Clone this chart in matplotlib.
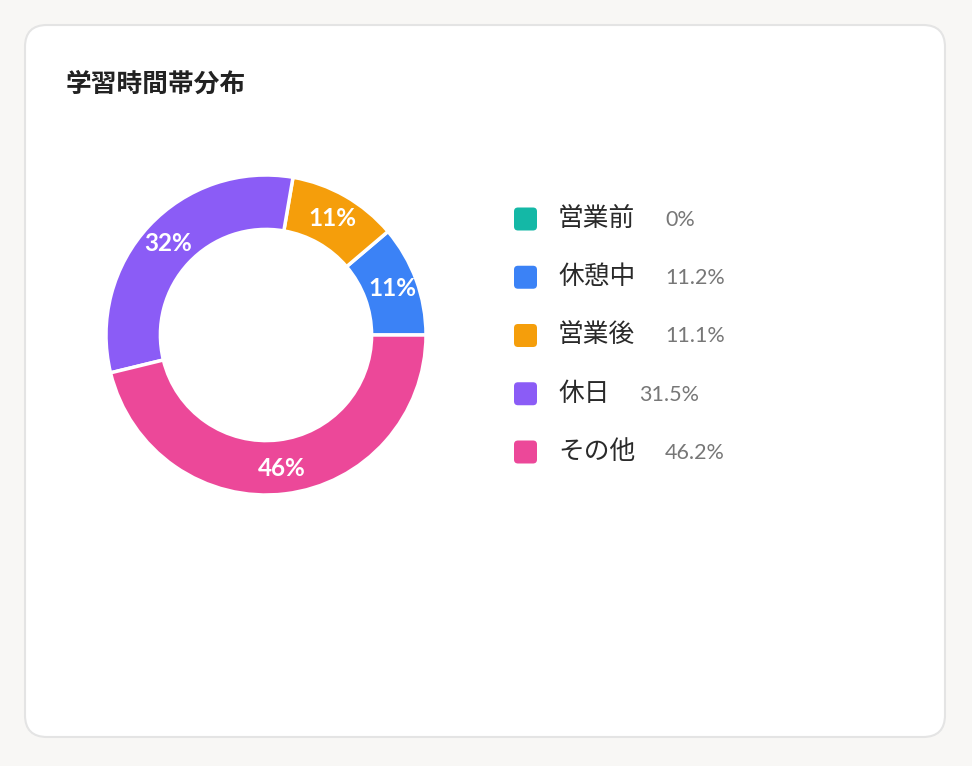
import numpy as np
import matplotlib
matplotlib.use("Agg")
import matplotlib.pyplot as plt
from matplotlib.patches import FancyBboxPatch

# データ
categories = ["営業前", "休憩中", "営業後", "休日", "その他"]
values = [0.0, 11.2, 11.1, 31.5, 46.2]
colors = ["#14b8a6", "#3b82f6", "#f59e0b", "#8b5cf6", "#ec4899"]
title = "学習時間帯分布"

W, H = 972, 766
fig = plt.figure(figsize=(W / 100, H / 100), dpi=100)
fig.patch.set_facecolor("#f8f7f5")

# 背景用の軸 (ピクセル座標)
bg = fig.add_axes([0, 0, 1, 1])
bg.set_xlim(0, W)
bg.set_ylim(H, 0)
bg.axis("off")
card = FancyBboxPatch((25, 25), 920, 712, boxstyle="round,pad=0,rounding_size=22",
                      facecolor="white", edgecolor="#e4e4e4", lw=1.5)
bg.add_patch(card)
bg.text(66, 84, title, fontsize=18.5, fontweight="bold", color="#222222",
        family=["Noto Sans CJK JP"], va="center", ha="left")

# ドーナツ
cx, cy, R = 266, 335, 160
half = 170
ax = fig.add_axes([(cx - half) / W, (H - cy - half) / H, 2 * half / W, 2 * half / H])
wedges, _ = ax.pie(values, colors=colors, startangle=0, counterclock=True, radius=1,
                   wedgeprops=dict(width=0.34, edgecolor="white", linewidth=2.5))
lim = half / R
ax.set_xlim(-lim, lim)
ax.set_ylim(-lim, lim)
ax.axis("off")

for w, v in zip(wedges, values):
    if v < 1:
        continue
    ang = np.deg2rad((w.theta1 + w.theta2) / 2)
    r = 0.84
    ax.text(r * np.cos(ang), r * np.sin(ang), f"{int(v + 0.5)}%", color="white",
            fontsize=17.5, fontweight="bold", family=["Lato", "DejaVu Sans"],
            ha="center", va="center")

# 凡例
y0, dy = 219, 58.25
for i, (lab, v) in enumerate(zip(categories, values)):
    y = y0 + i * dy
    bg.add_patch(FancyBboxPatch((514, y - 11.5), 23, 23, boxstyle="round,pad=0,rounding_size=4",
                                facecolor=colors[i], edgecolor="none"))
    bg.text(558, y, lab, fontsize=18.5, color="#2a2a2a", family=["Noto Sans CJK JP"],
            va="center", ha="left")
    vx = 558 + len(lab) * 26 + 29
    bg.text(vx, y + 1, f"{v:g}%", fontsize=15.5, color="#777777",
            family=["Lato", "DejaVu Sans"], va="center", ha="left")

fig.savefig("out.png", dpi=100, facecolor=fig.get_facecolor())
